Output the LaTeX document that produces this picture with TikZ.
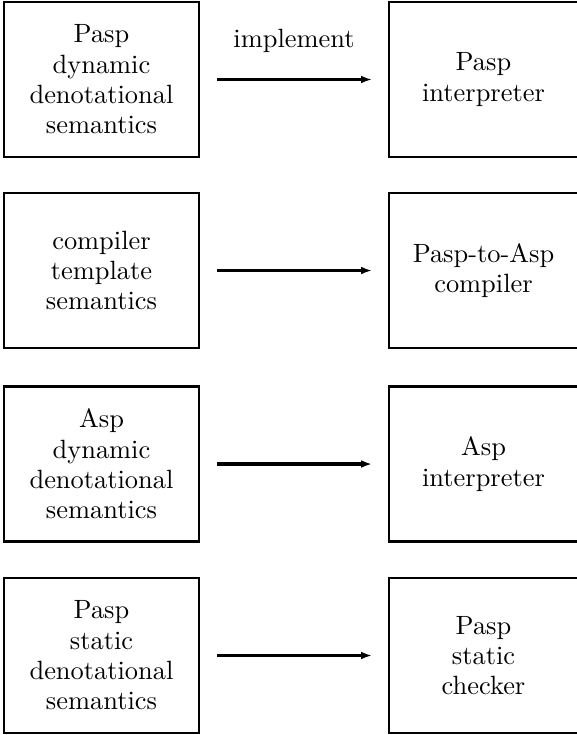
\documentclass[tikz,border=0pt]{standalone}
\usetikzlibrary{arrows.meta}
\begin{document}
\begin{tikzpicture}[x=0.39pt,y=-0.39pt,
  lbox/.style={draw,line width=1.15pt,minimum width=76.05pt,minimum height=60.45pt,inner sep=0pt,outer sep=0pt,align=center,font=\fontsize{10.3}{11.8}\selectfont},
  rbox/.style={lbox,minimum width=73.71pt},
  conn/.style={line width=1.25pt,-{Latex[length=4.2pt,width=3pt]},shorten <=7.02pt,shorten >=6.63pt}]
\useasboundingbox (0,0) rectangle (577,735);
\node[lbox] (l1) at (101.5,79.5) {Pasp\\dynamic\\denotational\\semantics};
\node[rbox] (r1) at (483.5,79.5) {Pasp\\interpreter};
\node[lbox] (l2) at (101.5,270.5) {compiler\\template\\semantics};
\node[rbox] (r2) at (483.5,270.5) {Pasp-to-Asp\\compiler};
\node[lbox] (l3) at (101.5,464) {Asp\\dynamic\\denotational\\semantics};
\node[rbox] (r3) at (483.5,464) {Asp\\interpreter};
\node[lbox] (l4) at (101.5,655.5) {Pasp\\static\\denotational\\semantics};
\node[rbox] (r4) at (483.5,655.5) {Pasp\\static\\checker};
\draw[conn] (l1) -- node[midway,anchor=base,yshift=12.6pt,font=\fontsize{10.3}{11.8}\selectfont] (lab) {implement} (r1);
\draw[conn] (l2) -- (r2);
\draw[conn] (l3) -- (r3);
\draw[conn] (l4) -- (r4);
\end{tikzpicture}
\end{document}
